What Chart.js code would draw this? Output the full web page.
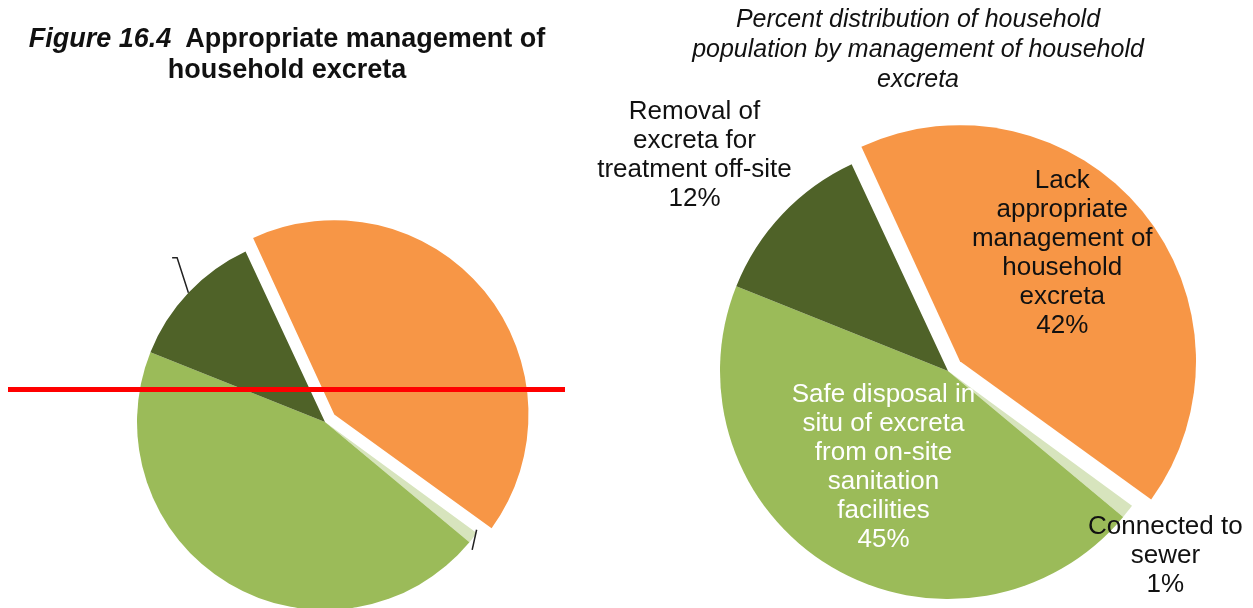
<!DOCTYPE html>
<html>
<head>
<meta charset="utf-8">
<script src="https://cdn.jsdelivr.net/npm/chart.js@4.4.1/dist/chart.umd.min.js"></script>
<style>
    html, body { margin: 0; padding: 0; background: #ffffff; }
    #stage { position: relative; width: 1253px; height: 608px; overflow: hidden; font-family: "Liberation Sans", Arial, sans-serif; }
    canvas { position: absolute; left: 0; top: 0; }
    #leftTitle { position: absolute; left: 0; top: 23px; width: 574px; text-align: center; font-weight: bold; font-size: 27px; line-height: 31px; color: #111; white-space: nowrap; }
    #leftTitle .fig { font-style: italic; }
    #rightTitle { position: absolute; left: 618px; top: 3px; width: 600px; text-align: center; font-style: italic; font-size: 25px; line-height: 30px; color: #111; }
    #redLine { position: absolute; left: 8px; top: 387px; width: 557px; height: 5px; background: #ff0000; }
</style>
</head>
<body>
<div id="stage">
    <canvas id="leftPie" width="1253" height="608"></canvas>
    <canvas id="rightPie" width="1253" height="608"></canvas>
    <div id="leftTitle"><span class="fig">Figure 16.4</span>&nbsp; Appropriate management of<br>household excreta</div>
    <div id="rightTitle">Percent distribution of household<br>population by management of household<br>excreta</div>
    <div id="redLine"></div>
</div>
<script>
// Data - household population by management of household excreta (%)
const categories = [
    'Lack appropriate management of household excreta',
    'Connected to sewer',
    'Safe disposal in situ of excreta from on-site sanitation facilities',
    'Removal of excreta for treatment off-site'
];
const percentages = [42, 1, 45, 12];
const labelLines = [
    ['Lack', 'appropriate', 'management of', 'household', 'excreta'],
    ['Connected to', 'sewer'],
    ['Safe disposal in', 'situ of excreta', 'from on-site', 'sanitation', 'facilities'],
    ['Removal of', 'excreta for', 'treatment off-site']
];

// Office palette
const sliceColors = ['#F79646', '#D7E4BD', '#9BBB59', '#4F6228'];
const labelColors = ['#111111', '#111111', '#ffffff', '#111111'];

// Where each label sits: fraction of radius and a small turn off the slice middle (deg)
const labelPlacement = [
    { radius: 0.72, turn: -6.5 },
    { radius: 1.25, turn: 2.3 },
    { radius: 0.51, turn: 2.9 },
    { radius: 1.46, turn: -3 }
];

const FONT = '"Liberation Sans", Arial, sans-serif';

function arcGeometry(arc) {
    return arc.getProps(['x', 'y', 'startAngle', 'endAngle', 'outerRadius'], true);
}

// Labels drawn beside / inside slices of the right pie
const sliceLabelPlugin = {
    id: 'sliceLabels',
    afterDatasetsDraw(chart) {
        const ctx = chart.ctx;
        const meta = chart.getDatasetMeta(0);
        ctx.save();
        ctx.font = '26px ' + FONT;
        ctx.textAlign = 'center';
        ctx.textBaseline = 'middle';
        meta.data.forEach((arc, i) => {
            const g = arcGeometry(arc);
            const place = labelPlacement[i];
            const angle = (g.startAngle + g.endAngle) / 2 + place.turn * Math.PI / 180;
            const r = g.outerRadius * place.radius;
            const cx = g.x + Math.cos(angle) * r;
            const cy = g.y + Math.sin(angle) * r;
            const lines = labelLines[i].concat([percentages[i] + '%']);
            const lineHeight = 29;
            ctx.fillStyle = labelColors[i];
            lines.forEach((line, k) => {
                ctx.fillText(line, cx, cy + (k - (lines.length - 1) / 2) * lineHeight);
            });
        });
        ctx.restore();
    }
};

// Little leader stubs left over on the cropped left pie
const leaderStubPlugin = {
    id: 'leaderStubs',
    afterDatasetsDraw(chart) {
        const ctx = chart.ctx;
        const meta = chart.getDatasetMeta(0);
        const deg = Math.PI / 180;
        ctx.save();
        ctx.strokeStyle = '#222222';
        ctx.lineWidth = 1.5;

        // Removal slice: line out from the edge, then a short tick to the left
        let g = arcGeometry(meta.data[3]);
        let mid = (g.startAngle + g.endAngle) / 2;
        ctx.beginPath();
        ctx.moveTo(g.x + Math.cos(mid) * g.outerRadius, g.y + Math.sin(mid) * g.outerRadius);
        const ex = g.x + Math.cos(mid + 4.6 * deg) * (g.outerRadius + 33);
        const ey = g.y + Math.sin(mid + 4.6 * deg) * (g.outerRadius + 33);
        ctx.lineTo(ex, ey);
        ctx.lineTo(ex - 5, ey);
        ctx.stroke();

        // Sewer slice: short stub across the edge
        g = arcGeometry(meta.data[1]);
        mid = (g.startAngle + g.endAngle) / 2;
        ctx.beginPath();
        ctx.moveTo(g.x + Math.cos(mid - 2.6 * deg) * (g.outerRadius - 2), g.y + Math.sin(mid - 2.6 * deg) * (g.outerRadius - 2));
        ctx.lineTo(g.x + Math.cos(mid + 3 * deg) * (g.outerRadius + 7), g.y + Math.sin(mid + 3 * deg) * (g.outerRadius + 7));
        ctx.stroke();
        ctx.restore();
    }
};

function makePie(canvasId, radius, explode, padding, plugins) {
    return new Chart(document.getElementById(canvasId), {
        type: 'pie',
        data: {
            labels: categories,
            datasets: [{
                data: percentages,
                backgroundColor: sliceColors,
                borderWidth: 0,
                offset: [explode, 0, 0, 0]
            }]
        },
        options: {
            responsive: false,
            animation: false,
            rotation: -25,
            radius: radius,
            layout: { padding: padding },
            plugins: {
                legend: { display: false },
                tooltip: { enabled: false },
                title: { display: false }
            }
        },
        plugins: plugins
    });
}

// Left pie: centre (325, 422), right pie: centre (948, 371)
makePie('leftPie', 188, 48, { left: 100, right: 703, top: 236, bottom: 0 }, [leaderStubPlugin]);
makePie('rightPie', 228, 62, { left: 700, right: 57, top: 134, bottom: 0 }, [sliceLabelPlugin]);
</script>
</body>
</html>
